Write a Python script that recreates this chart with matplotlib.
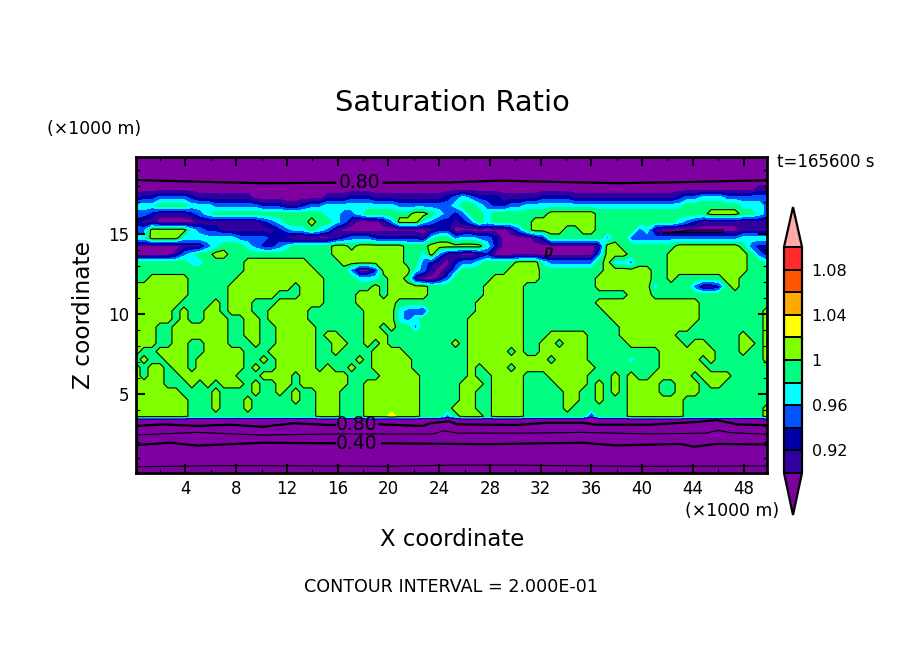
import numpy as np
import matplotlib
matplotlib.use("Agg")
import matplotlib.pyplot as plt
from matplotlib.colors import ListedColormap, BoundaryNorm

W, H = 904, 654

title = "Saturation Ratio"
x_label = "X coordinate"
z_label = "Z coordinate"
footer = "CONTOUR INTERVAL = 2.000E-01"
time_note = "t=165600 s"
unit_note = "(×1000 m)"

x_ticks = [4, 8, 12, 16, 20, 24, 28, 32, 36, 40, 44, 48]
z_ticks = [5, 10, 15]
bar_ticks = [0.92, 0.96, 1.0, 1.04, 1.08]
bar_tick_labels = ["0.92", "0.96", "1", "1.04", "1.08"]

levels = [0.90, 0.92, 0.94, 0.96, 0.98, 1.00, 1.02, 1.04, 1.06, 1.08, 1.10]
band_colors = ["#3300a0", "#0000aa", "#0055ff", "#00ffff", "#00ff80", "#80ff00",
               "#ffff00", "#ffaa00", "#ff5500", "#ff2a2a"]
under_color = "#7f00a0"
over_color = "#ffaaaa"

# Band index: 0 purple, 1 indigo, 2 navy, 3 blue, 4 cyan, 5 green, 6 lime, 7 yellow.
# One row per 0.5 km from the top of the plot, 80 columns left to right.
band_rows = [
 "0000000000 0000000000 0000000000 0000000000 0000000000 0000000000 0000000000 0000000000",
 "0000000000 0000000000 0000000000 0000000000 0000000000 0000000000 0000000000 0000000000",
 "0000000000 0000000000 0000000000 0000000000 0000000000 0000000000 0000000000 0000000000",
 "0000000000 0000000000 0000000000 0000000000 0000000000 0000000000 0000000000 0000000000",
 "0000000000 0000000000 0000000000 0000000000 0000000000 0000000000 0000000000 0000000011",
 "1223333211 1111100000 0000111222 1111111112 3432221111 1222211111 1111111123 3444333333",
 "4445555444 3333332221 1233444444 4443333333 4554322334 4444444444 4444444445 5555554443",
 "3321111234 5555555555 5555443345 5555566543 2355455555 5566666655 5555555555 5566665543",
 "2110000011 1111112345 5565543100 0136664322 1235455555 6666666655 5555555543 2111111111",
 "3366666432 2111111123 4454310000 0000000122 0000000135 6666556655 5553410000 0000001111",
 "4466664444 4443333221 0000012333 2222221455 3443320000 1255555553 5533333333 3333334444",
 "0000001113 4555432234 5555566566 6666555666 6666420000 0000000016 6555555566 6666665322",
 "0000013455 6655555555 5555566666 6666554631 1001200000 0000000036 6655555666 6666666532",
 "5555555445 5555666666 6655556666 6666553210 2334555566 6433333356 4435555666 6666666554",
 "5555555555 5555666666 6665555300 2666643101 3555555666 6555555556 6666655666 6666666555",
 "5566666555 5556666666 6666555544 4566510013 5555566666 6555555566 6666655655 5555665555",
 "6666666555 5566666666 5666555555 6566666555 5555666665 5555555566 6666645555 3112565555",
 "6666666555 5566666655 5666555566 6566666555 5555666665 5555555555 5566655555 5555555555",
 "6666665555 6566655566 6666555566 6665555555 5556666665 5555555566 6666666666 6555555555",
 "6666656556 6566655666 6655555556 6664332555 5556666665 5555555556 6666666666 6555555556",
 "6666656556 6655665666 6655555556 6664345555 5566666665 5555555555 6666666666 6555555556",
 "6665566666 6655665566 6665555556 6565535555 5566666665 5555555555 5666666666 5555555556",
 "6665566666 6655665566 6665665556 6655555555 5566666665 5566666555 5666666655 5555556556",
 "6665566556 6655565566 6665566556 5655555555 6566666665 5665666555 5566666665 6655556656",
 "6556666556 6666555666 6665565555 6666555555 5566666565 5666666555 5555556666 6665556556",
 "5655666566 6666556566 6665555565 6666655555 5566666666 6656666555 5545556666 6565555556",
 "6566566566 6666565566 6665655655 6666655555 5565666566 6666666655 5555556666 6655555555",
 "6566556666 6665556666 5666666555 5666665555 5565566665 5566666555 6565566666 5666655555",
 "6666555656 5666565566 5666666556 6666665555 5666566665 5556666565 6566665566 6566555555",
 "6666665555 6555565565 6556665556 6666665555 5665566665 5555665565 6566665566 6555555555",
 "6666666555 6555655555 6556665556 6666665555 5665566665 5555665565 5566666665 5555555555",
 "6666666555 6555655555 5556665556 6666665555 6665566665 5555655555 5566666665 5555555556",
 "6666666555 5555555555 5556665556 6676665553 5666566665 5555555255 5566666665 5555555556",
 "0000000000 0000000000 0000000000 0000000000 0000000000 0000000000 0000000000 0000000000",
 "0000000000 0000000000 0000000000 0000000000 0000000000 0000000000 0000000000 0000000000",
 "0000000000 0000000000 0000000000 0000000000 0000000000 0000000000 0000000000 0000000000",
 "0000000000 0000000000 0000000000 0000000000 0000000000 0000000000 0000000000 0000000000",
 "0000000000 0000000000 0000000000 0000000000 0000000000 0000000000 0000000000 0000000000",
 "0000000000 0000000000 0000000000 0000000000 0000000000 0000000000 0000000000 0000000000",
 "0000000000 0000000000 0000000000 0000000000 0000000000 0000000000 0000000000 0000000000",
]
band_values = [0.89, 0.91, 0.93, 0.95, 0.97, 0.99, 1.01, 1.03]
lower_purple_value = 0.70   # well below the band near the ground, so the edge is sharp
first_lower_row = 33

x_limits = (0.1, 49.85)
z_limits = (0.06, 19.81)

# Labelled contours (nan = gap left for a label)
top_080_x = [0.1, 4.8, 10, 15.8, np.nan, 19.6, 24.8, 28.8, 38, 41.9, 48.5, 49.85]
top_080_z = [18.37, 18.27, 18.17, 18.2, np.nan, 18.2, 18.22, 18.33, 18.17, 18.22, 18.33, 18.35]
low_080_x = [0.1, 2.2, 4.9, 7.5, 10.1, 12.5, 15.4, 15.8, np.nan, 19.3, 22.7, 23.3, 24.8, 25.4,
             30.1, 32.5, 35.3, 36.4, 40.6, 44.3, 45.9, 47.5, 49.85]
low_080_z = [3.0, 3.1, 3.0, 3.08, 2.95, 3.17, 3.06, 3.06, np.nan, 3.1, 3.0, 3.17, 3.3, 3.1,
             3.06, 3.2, 3.2, 3.08, 3.08, 3.25, 3.37, 3.1, 3.04]
low_060_x = [0.1, 4.9, 10.1, 15.4, 21, 23.5, 24.4, 25.5, 30, 35.3, 40.6, 45, 46, 47, 49.85]
low_060_z = [2.43, 2.6, 2.43, 2.5, 2.5, 2.5, 2.7, 2.55, 2.55, 2.6, 2.5, 2.55, 2.72, 2.58, 2.48]
low_040_x = [0.1, 2.9, 4.9, 10.1, 15.4, 15.8, np.nan, 19.5, 24.8, 28, 35.3, 38, 43, 44.1, 45.9, 49.85]
low_040_z = [1.81, 1.95, 1.77, 1.95, 1.92, 1.92, np.nan, 1.92, 1.88, 1.86, 1.95, 1.78, 1.88, 1.7, 1.88, 1.84]
low_020_x = [0.1, 7, 15, 20, 25, 30, 36, 40, 49.85]
low_020_z = [0.45, 0.52, 0.5, 0.48, 0.55, 0.55, 0.5, 0.48, 0.5]
sliver_x = [41.7, 44, 46.4, 46.4, 44, 41.7]
sliver_z = [15.05, 15.25, 15.25, 15.1, 15.1, 15.05]
loop_x = [32.4, 32.8, 32.9, 32.5, 32.4]
loop_z = [13.6, 13.7, 14.1, 14.1, 13.6]


def px_text(px, py, s, **kw):
    return fig.text(px / W, 1 - py / H, s, va="center", **kw)


rows = [r.replace(" ", "") for r in band_rows]
Z = np.array([[band_values[int(c)] for c in r] for r in rows])
Z[first_lower_row:][Z[first_lower_row:] < 0.9] = lower_purple_value
x = np.linspace(x_limits[0], x_limits[1], Z.shape[1])
z = np.linspace(z_limits[1], z_limits[0], Z.shape[0])

fig = plt.figure(figsize=(W / 100, H / 100), dpi=100, facecolor="white")
ax = fig.add_axes([136 / W, 1 - 473 / H, (767 - 136) / W, (473 - 157) / H])

cmap = ListedColormap(band_colors)
cmap.set_under(under_color)
cmap.set_over(over_color)
norm = BoundaryNorm(levels, cmap.N)
cf = ax.contourf(x, z, Z, levels=levels, cmap=cmap, norm=norm, extend="both", antialiased=False)
ax.contour(x, z, Z, levels=[1.0], colors="black", linewidths=0.8)

for xs, zs, lw in [(top_080_x, top_080_z, 1.6), (low_080_x, low_080_z, 1.6),
                   (low_060_x, low_060_z, 0.8), (low_040_x, low_040_z, 1.6),
                   (low_020_x, low_020_z, 0.8), (sliver_x, sliver_z, 0.9), (loop_x, loop_z, 1.2)]:
    ax.plot(xs, zs, color="black", lw=lw)

ax.text(17.7, 18.2, "0.80", ha="center", va="center", fontsize=13.5, color="black")
ax.text(17.5, 3.06, "0.80", ha="center", va="center", fontsize=13.5, color="black")
ax.text(17.5, 1.88, "0.40", ha="center", va="center", fontsize=13.5, color="black")

ax.set_xlim(*x_limits)
ax.set_ylim(*z_limits)
ax.set_xticks(x_ticks)
ax.set_yticks(z_ticks)
ax.set_xticks(np.arange(2, 50, 2), minor=True)
ax.set_yticks(np.arange(1, 20, 1), minor=True)
ax.tick_params(which="major", direction="in", top=True, right=True, length=6.5, width=1.5,
               labelsize=12, pad=5)
ax.tick_params(which="minor", direction="in", top=True, right=True, length=3, width=0.8)
for s in ax.spines.values():
    s.set_linewidth(2)

cax = fig.add_axes([784 / W, 1 - 515 / H, 18 / W, (515 - 207) / H])
cb = fig.colorbar(cf, cax=cax, extend="both", extendfrac=(42 / 226, 40 / 226), drawedges=True,
                  spacing="proportional")
cb.set_ticks(bar_ticks)
cb.set_ticklabels(bar_tick_labels)
cb.ax.tick_params(length=0, labelsize=11.5, pad=7)
cb.ax.minorticks_off()
cb.outline.set_linewidth(1.6)
cb.dividers.set_linewidth(1.4)
cb.dividers.set_color("black")

px_text(452, 103, title, ha="center", fontsize=20.8)
px_text(452, 539, x_label, ha="center", fontsize=16.4)
px_text(84, 315, z_label, ha="center", rotation=90, fontsize=16.8)
px_text(47, 129, unit_note, ha="left", fontsize=12.4)
px_text(685, 511, unit_note, ha="left", fontsize=12.4)
px_text(777, 162, time_note, ha="left", fontsize=12)
px_text(451, 587, footer, ha="center", fontsize=12.6)

fig.savefig("out.png", dpi=100)
